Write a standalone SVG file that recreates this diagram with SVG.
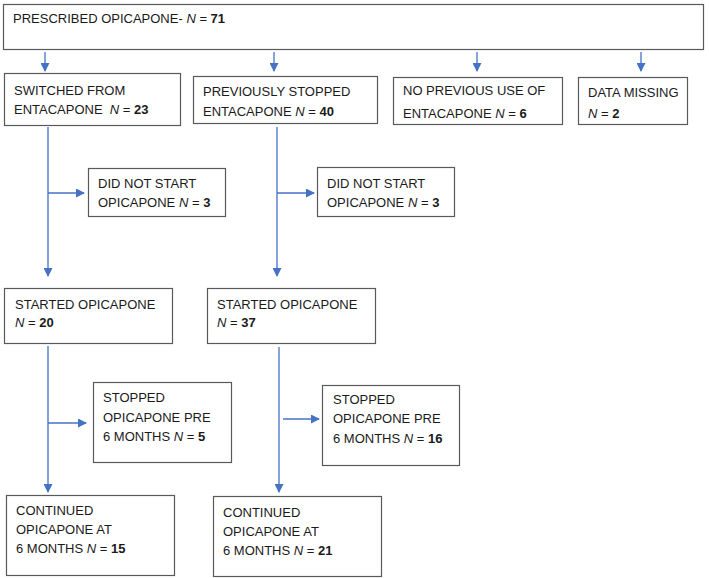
<svg xmlns="http://www.w3.org/2000/svg" width="709" height="578" viewBox="0 0 709 578">
<style>
.box{fill:#fff;stroke:#595959;stroke-width:1.2}
.t{font-family:"Liberation Sans",Arial,sans-serif;font-size:13px;fill:#1a1a1a}
.b{font-weight:bold}
.i{font-style:italic}
.c{stroke:#4472C4;stroke-width:1.3;fill:none}
</style>
<defs>
<marker id="ah" markerWidth="9" markerHeight="9" refX="8" refY="4.5" orient="auto" markerUnits="userSpaceOnUse">
<path d="M0,0 L9,4.5 L0,9 z" fill="#4472C4"/>
</marker>
</defs>
<rect width="709" height="578" fill="#fff"/>
<g id="connectors">
<line class="c" x1="45" y1="52" x2="45" y2="71" marker-end="url(#ah)"/>
<line class="c" x1="274" y1="52" x2="274" y2="71" marker-end="url(#ah)"/>
<line class="c" x1="477" y1="52" x2="477" y2="71" marker-end="url(#ah)"/>
<line class="c" x1="641" y1="52" x2="641" y2="71" marker-end="url(#ah)"/>
<line class="c" x1="48" y1="127" x2="48" y2="276" marker-end="url(#ah)"/>
<line class="c" x1="48" y1="193" x2="84" y2="193" marker-end="url(#ah)"/>
<line class="c" x1="277" y1="127" x2="277" y2="276" marker-end="url(#ah)"/>
<line class="c" x1="277" y1="193" x2="314" y2="193" marker-end="url(#ah)"/>
<line class="c" x1="48" y1="346" x2="48" y2="492" marker-end="url(#ah)"/>
<line class="c" x1="48" y1="423" x2="86" y2="423" marker-end="url(#ah)"/>
<line class="c" x1="279" y1="347" x2="279" y2="492" marker-end="url(#ah)"/>
<line class="c" x1="283" y1="419" x2="319" y2="419" marker-end="url(#ah)"/>
</g>
<g id="prescribed">
<rect class="box" x="3.5" y="4.5" width="700" height="45"/>
<text class="t" x="13" y="23">PRESCRIBED OPICAPONE- <tspan class="i">N</tspan> = <tspan class="b">71</tspan></text>
</g>
<g id="switched">
<rect class="box" x="4.5" y="73.5" width="176" height="52"/>
<text class="t" x="14" y="95">SWITCHED FROM</text>
<text class="t" x="14" y="114">ENTACAPONE&#160; <tspan class="i">N</tspan> = <tspan class="b">23</tspan></text>
</g>
<g id="prevstopped">
<rect class="box" x="193.5" y="76.5" width="184" height="47"/>
<text class="t" x="203" y="96">PREVIOUSLY STOPPED</text>
<text class="t" x="203" y="116">ENTACAPONE <tspan class="i">N</tspan> = <tspan class="b">40</tspan></text>
</g>
<g id="noprevious">
<rect class="box" x="393.5" y="77.5" width="169" height="47"/>
<text class="t" x="403" y="95">NO PREVIOUS USE OF</text>
<text class="t" x="403" y="118">ENTACAPONE <tspan class="i">N</tspan> = <tspan class="b">6</tspan></text>
</g>
<g id="datamissing">
<rect class="box" x="578.5" y="77.5" width="109" height="47"/>
<text class="t" x="588" y="97">DATA MISSING</text>
<text class="t" x="588" y="118"><tspan class="i">N</tspan> = <tspan class="b">2</tspan></text>
</g>
<g id="didnotstart1">
<rect class="box" x="88.5" y="168.5" width="137" height="48"/>
<text class="t" x="98" y="188">DID NOT START</text>
<text class="t" x="98" y="207">OPICAPONE <tspan class="i">N</tspan> = <tspan class="b">3</tspan></text>
</g>
<g id="didnotstart2">
<rect class="box" x="317.5" y="167.5" width="137" height="49"/>
<text class="t" x="327" y="188">DID NOT START</text>
<text class="t" x="327" y="207">OPICAPONE <tspan class="i">N</tspan> = <tspan class="b">3</tspan></text>
</g>
<g id="started1">
<rect class="box" x="4.5" y="288.5" width="168" height="55"/>
<text class="t" x="15" y="309">STARTED OPICAPONE</text>
<text class="t" x="15" y="327"><tspan class="i">N</tspan> = <tspan class="b">20</tspan></text>
</g>
<g id="started2">
<rect class="box" x="207.5" y="288.5" width="168" height="55"/>
<text class="t" x="217" y="309">STARTED OPICAPONE</text>
<text class="t" x="217" y="327"><tspan class="i">N</tspan> = <tspan class="b">37</tspan></text>
</g>
<g id="stopped1">
<rect class="box" x="93.5" y="382.5" width="138" height="80"/>
<text class="t" x="103" y="402">STOPPED</text>
<text class="t" x="103" y="422">OPICAPONE PRE</text>
<text class="t" x="103" y="441">6 MONTHS <tspan class="i">N</tspan> = <tspan class="b">5</tspan></text>
</g>
<g id="stopped2">
<rect class="box" x="322.5" y="385.5" width="137" height="80"/>
<text class="t" x="333" y="404">STOPPED</text>
<text class="t" x="333" y="423">OPICAPONE PRE</text>
<text class="t" x="333" y="443">6 MONTHS <tspan class="i">N</tspan> = <tspan class="b">16</tspan></text>
</g>
<g id="continued1">
<rect class="box" x="6.5" y="495.5" width="168" height="80"/>
<text class="t" x="16" y="515">CONTINUED</text>
<text class="t" x="16" y="534">OPICAPONE AT</text>
<text class="t" x="16" y="553">6 MONTHS <tspan class="i">N</tspan> = <tspan class="b">15</tspan></text>
</g>
<g id="continued2">
<rect class="box" x="213.5" y="496.5" width="168" height="80"/>
<text class="t" x="223" y="517">CONTINUED</text>
<text class="t" x="223" y="536">OPICAPONE AT</text>
<text class="t" x="223" y="555">6 MONTHS <tspan class="i">N</tspan> = <tspan class="b">21</tspan></text>
</g>
</svg>
